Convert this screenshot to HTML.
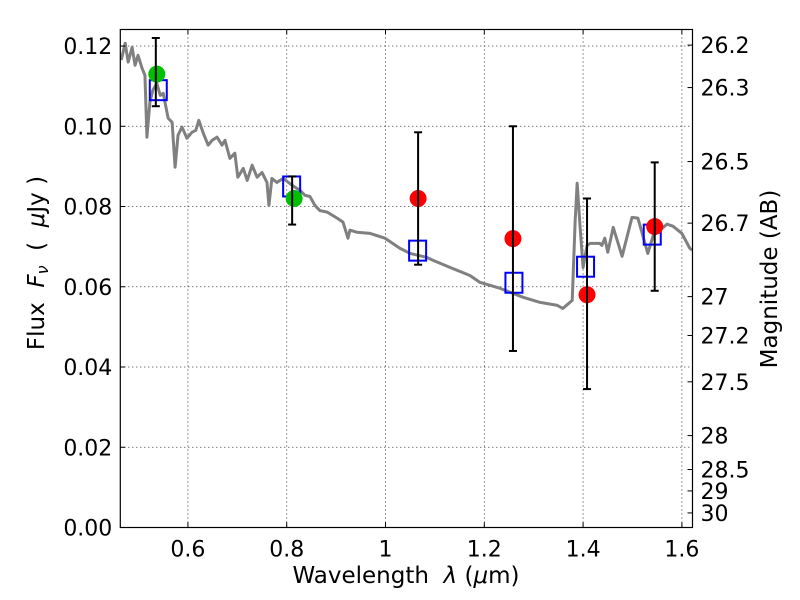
<!DOCTYPE html>
<html><head><meta charset="utf-8"><style>
body{margin:0;background:#fff;}
svg{display:block;font-family:"DejaVu Sans","Liberation Sans",sans-serif;}
</style></head><body>
<svg id="chart" width="800" height="600" viewBox="0 0 800 600" xmlns="http://www.w3.org/2000/svg">
<rect width="800" height="600" fill="#fff"/>
<g id="grid"></g><g id="spec"></g><g id="marks"></g><g id="axes"></g>
</svg>
<script>
const specWave=[0.465,0.473,0.479,0.487,0.493,0.499,0.507,0.513,0.517,0.523,0.529,0.537,0.544,0.550,0.560,0.568,0.574,0.580,0.588,0.598,0.608,0.616,0.622,0.631,0.641,0.649,0.659,0.669,0.675,0.685,0.695,0.701,0.712,0.720,0.730,0.740,0.750,0.760,0.764,0.770,0.780,0.793,0.811,0.827,0.837,0.847,0.857,0.867,0.882,0.902,0.914,0.924,0.928,0.942,0.969,0.999,1.029,1.050,1.084,1.096,1.131,1.171,1.191,1.232,1.278,1.313,1.347,1.359,1.378,1.384,1.388,1.394,1.400,1.408,1.414,1.434,1.438,1.444,1.450,1.461,1.479,1.499,1.511,1.531,1.542,1.570,1.582,1.600,1.616,1.621];
const specFlux=[0.1165,0.1207,0.1160,0.1197,0.1152,0.1177,0.1145,0.1127,0.0973,0.1060,0.1090,0.1107,0.1077,0.1082,0.1020,0.1010,0.0898,0.0978,0.0998,0.0970,0.0985,0.0990,0.1015,0.0983,0.0953,0.0965,0.0973,0.0953,0.0965,0.0920,0.0933,0.0873,0.0895,0.0865,0.0903,0.0873,0.0885,0.0860,0.0803,0.0870,0.0860,0.0870,0.0853,0.0840,0.0828,0.0825,0.0803,0.0790,0.0786,0.0771,0.0761,0.0721,0.0741,0.0736,0.0733,0.0721,0.0696,0.0683,0.0673,0.0666,0.0648,0.0628,0.0611,0.0596,0.0574,0.0561,0.0554,0.0546,0.0566,0.0766,0.0858,0.0748,0.0648,0.0703,0.0708,0.0708,0.0703,0.0721,0.0686,0.0748,0.0676,0.0773,0.0771,0.0683,0.0728,0.0756,0.0751,0.0733,0.0696,0.0691];
const modelWave=[0.540,0.810,1.065,1.260,1.405,1.540];
const modelFlux=[0.109,0.085,0.069,0.061,0.065,0.073];
const greenWave=[0.537,0.815];
const greenFlux=[0.113,0.082];
const redWave=[1.066,1.258,1.408,1.545];
const redFlux=[0.082,0.072,0.058,0.075];
const errWave=[0.535,0.811,1.066,1.258,1.408,1.545];
const errLow=[0.105,0.0755,0.0655,0.044,0.0345,0.059];
const errHigh=[0.122,0.0875,0.0985,0.100,0.082,0.091];
const xTicks=[0.6,0.8,1.0,1.2,1.4,1.6];
const xTickLabels=["0.6","0.8","1","1.2","1.4","1.6"];
const yTicks=[0,0.02,0.04,0.06,0.08,0.10,0.12];
const yTickLabels=["0.00","0.02","0.04","0.06","0.08","0.10","0.12"];
const magTicks=[26.2,26.3,26.5,26.7,27,27.2,27.5,28,28.5,29,30];
const magLabels=["26.2","26.3","26.5","26.7","27","27.2","27.5","28","28.5","29","30"];

const L=120.3,R=692.5,T=29.5,B=527.5;
const X0=0.4631,X1=1.6215,Y0=0,Y1=0.12412;
const sx=v=>L+(v-X0)/(X1-X0)*(R-L);
const sy=v=>B-(v-Y0)/(Y1-Y0)*(B-T);
const NS="http://www.w3.org/2000/svg";
function mk(tag,parent,attrs){const e=document.createElementNS(NS,tag);for(const k in attrs)e.setAttribute(k,attrs[k]);document.getElementById(parent).appendChild(e);return e;}

xTicks.forEach(v=>{const g=mk('line','grid',{x1:sx(v),x2:sx(v),y1:T,y2:B,stroke:'#000','stroke-width':0.8,'stroke-dasharray':'1,3'});

});
yTicks.forEach(v=>{const g=mk('line','grid',{x1:L,x2:R,y1:sy(v),y2:sy(v),stroke:'#000','stroke-width':0.8,'stroke-dasharray':'1,3'});

});

const sp=mk('polyline','spec',{points:specWave.map((w,i)=>sx(w)+','+sy(specFlux[i])).join(' '),fill:'none',stroke:'#808080','stroke-width':3,'stroke-linejoin':'round'});



modelWave.forEach((w,i)=>{const r=mk('rect','marks',{x:sx(w)-8.5,y:sy(modelFlux[i])-10,width:17,height:20,fill:'none',stroke:'#0000ff','stroke-width':2});

});
greenWave.forEach((w,i)=>{const c=mk('circle','marks',{cx:sx(w),cy:sy(greenFlux[i]),r:8.5,fill:'#00bf00'});

});
redWave.forEach((w,i)=>{const c=mk('circle','marks',{cx:sx(w),cy:sy(redFlux[i]),r:8.5,fill:'#ff0000'});

});
errWave.forEach((w,i)=>{const x=sx(w),y1=sy(errLow[i]),y2=sy(errHigh[i]);
const l=mk('line','marks',{x1:x,x2:x,y1:y1,y2:y2,stroke:'#000','stroke-width':2});


[y1,y2].forEach(y=>{const c=mk('line','marks',{x1:x-4,x2:x+4,y1:y,y2:y,stroke:'#000','stroke-width':2});

});});

const fr=mk('rect','axes',{x:L,y:T,width:R-L,height:B-T,fill:'none',stroke:'#000','stroke-width':1.2});


xTicks.forEach((v,i)=>{mk('line','axes',{x1:sx(v),x2:sx(v),y1:B,y2:B-5,stroke:'#000'});mk('line','axes',{x1:sx(v),x2:sx(v),y1:T,y2:T+5,stroke:'#000'});
const t=mk('text','axes',{x:sx(v),y:B+29,'text-anchor':'middle','font-size':22});t.textContent=xTickLabels[i];

});
yTicks.forEach((v,i)=>{mk('line','axes',{x1:L,x2:L+5,y1:sy(v),y2:sy(v),stroke:'#000'});
const t=mk('text','axes',{x:L-8,y:sy(v)+8,'text-anchor':'end','font-size':22});t.textContent=yTickLabels[i];

});
magTicks.forEach((m,i)=>{const f=Math.pow(10,(23.9-m)/2.5);const y=sy(f);
mk('line','axes',{x1:R,x2:R-5,y1:y,y2:y,stroke:'#000'});
const t=mk('text','axes',{x:R+8,y:y+8,'font-size':22});t.textContent=magLabels[i];

});
</script>
<svg style="position:absolute;left:0;top:0" width="800" height="600" font-family="DejaVu Sans, Liberation Sans, sans-serif">
<text x="406" y="583" text-anchor="middle" font-size="23" xml:space="preserve">Wavelength  <tspan font-style="italic">λ</tspan> (<tspan font-style="italic">μ</tspan>m)</text>
<text transform="translate(44,263) rotate(-90)" text-anchor="middle" font-size="23" xml:space="preserve">Flux  <tspan font-style="italic">F</tspan><tspan font-style="italic" font-size="16" dy="4">ν</tspan><tspan dy="-4">  (  </tspan><tspan font-style="italic">μ</tspan>Jy )</text>
<text transform="translate(777,279) rotate(-90)" text-anchor="middle" font-size="23">Magnitude (AB)</text>
</svg>
</body></html>
